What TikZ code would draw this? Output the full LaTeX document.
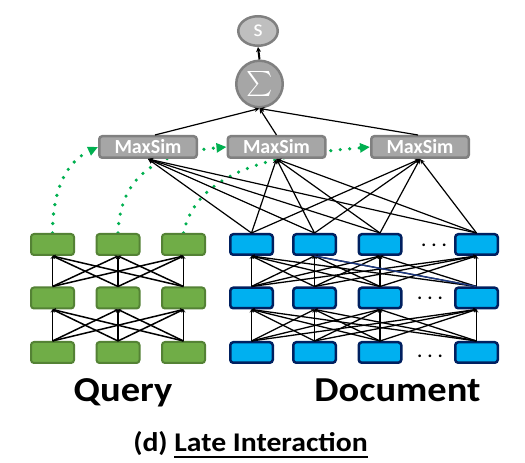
\documentclass[tikz,border=0pt]{standalone}
\usepackage{fontspec}
\setmainfont{Carlito}
\usetikzlibrary{arrows.meta,shapes.geometric,backgrounds}
\definecolor{qfill}{HTML}{70AD47}
\definecolor{qborder}{HTML}{548235}
\definecolor{dfill}{HTML}{00B0F0}
\definecolor{dborder}{HTML}{002060}
\definecolor{msfill}{HTML}{A6A6A6}
\definecolor{msborder}{HTML}{808080}
\definecolor{sfill}{HTML}{BFBFBF}
\definecolor{dotgreen}{HTML}{00B050}
\definecolor{navyline}{HTML}{1F3C88}
\newsavebox{\myulbox}
\newcommand{\myuline}[1]{\sbox{\myulbox}{#1}\rlap{\rule[-6pt]{\wd\myulbox}{1.8pt}}\usebox{\myulbox}}
\tikzset{
  qbox/.style={draw=qborder, fill=qfill, line width=2pt, rounded corners=3pt,
    minimum width=43pt, minimum height=21pt, inner sep=0pt},
  dbox/.style={draw=dborder, fill=dfill, line width=2.5pt, rounded corners=3pt,
    minimum width=42.5pt, minimum height=20.5pt, inner sep=0pt},
  msbox/.style={draw=msborder, fill=msfill, line width=2.5pt, rounded corners=3pt,
    minimum width=97.5pt, minimum height=21.5pt, inner sep=0pt, text=white,
    font=\bfseries\fontsize{20}{20}\selectfont},
  netline/.style={black, line width=1.5pt,
    -{Straight Barb[length=2.5pt,width=3.5pt,line width=0.5pt]}},
  msline/.style={black, line width=1.2pt,
    -{Stealth[length=5pt,width=4.5pt]}},
  greendots/.style={dotgreen, line width=3.6pt, dash pattern=on 0pt off 9.5pt,
    line cap=round, -{Triangle[length=10pt,width=9pt]}},
  dotstext/.style={anchor=base, font=\bfseries\fontsize{18}{18}\selectfont},
  biglabel/.style={anchor=base, font=\bfseries\fontsize{35}{35}\selectfont},
}
\begin{document}
\begin{tikzpicture}[x=1pt,y=1pt]
\useasboundingbox (0,0) rectangle (525,463);
\begin{scope}[on background layer]
  \fill[white] (0,0) rectangle (525,463);
\end{scope}

% encoder boxes: rows 1 (bottom) .. 3 (top)
\foreach \r/\y in {1/110.5,2/165,3/218.5}{
  \foreach \c/\x in {1/52.5,2/118,3/183.5}
    \node[qbox] (q\r\c) at (\x,\y) {};
  \foreach \c/\x in {1/251.5,2/314.5,3/380,4/476.5}
    \node[dbox] (d\r\c) at (\x,\y) {};
}

% ellipsis in document rows
\node[dotstext] (dots3) at (434,216.5) {. . .};
\node[dotstext] (dots2) at (430,163) {. . .};
\node[dotstext] (dots1) at (430,105.5) {. . .};

% query connections
\foreach \r/\rr in {1/2,2/3}
  \foreach \a in {1,2,3}
    \foreach \b in {1,2,3}
      \draw[netline] (q\r\a.north) -- (q\rr\b.south);

% document connections
\foreach \r/\rr in {1/2,2/3}
  \foreach \a in {1,2,3,4}
    \foreach \b in {1,2,3,4}
      \draw[netline, line width=1.3pt] (d\r\a.north) -- (d\rr\b.south);
\draw[navyline, line width=1.3pt] (d24.north) -- (d32.south);

% MaxSim
\node[msbox] (m1) at (148,316) {MaxSim};
\node[msbox] (m2) at (276.5,316) {MaxSim};
\node[msbox] (m3) at (420,316) {MaxSim};

\foreach \m in {1,2,3}
  \foreach \c in {1,2,3,4}
    \draw[msline] (d3\c.north) -- (m\m.south);

% sum and score
\node[circle, fill=msfill, draw=msborder, line width=2.5pt, minimum size=46.5pt,
  inner sep=0pt, text=white] (sig) at (259.5,379) {\scalebox{2.5}{$\sum$}};
\node[ellipse, fill=sfill, draw=msborder, line width=2.5pt, minimum width=39.5pt,
  minimum height=29.5pt, inner sep=0pt, text=white,
  font=\fontsize{24}{24}\selectfont] (s) at (258,432) {s};

\draw[msline] ([xshift=7pt]m1.north) -- (sig.south);
\draw[msline] (m2.north) -- (sig.south);
\draw[msline] ([xshift=-2pt]m3.north) -- (sig.south);
\draw[black, line width=2pt, -{Stealth[length=5pt,width=5pt]}] (sig.north) -- (s.south);

% green dotted flows (behind the MaxSim boxes)
\begin{scope}[on background layer]
  \draw[greendots] (q31.north) to[out=90, in=205] (m1.west);
  \draw[greendots] (q32.north) to[out=88, in=185, looseness=1.15] (m2.west);
  \draw[greendots] (q33.north) to[out=78, in=185, looseness=0.9] (m3.west);
\end{scope}

% labels
\node[biglabel] (ql) at (123,61) {\scalebox{1.1}[1]{Query}};
\node[biglabel] (dl) at (397.5,61) {\scalebox{1.1}[1]{Document}};
\node[anchor=base, font=\bfseries\fontsize{27}{27}\selectfont] (cap) at (250.5,11)
  {\scalebox{1.1}[1]{(d) \myuline{Late Interaction}}};
\end{tikzpicture}
\end{document}
